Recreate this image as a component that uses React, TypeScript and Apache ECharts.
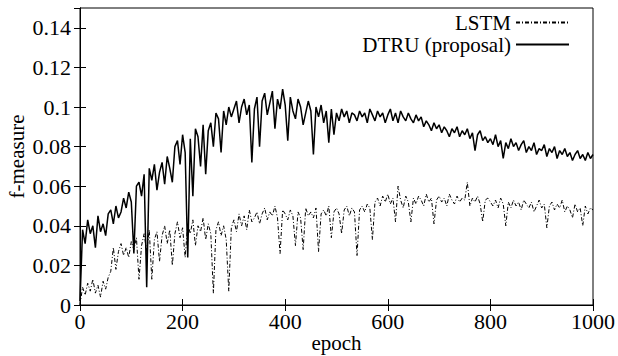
import React, { useEffect, useRef } from "react";
import * as echarts from "echarts";

const EPOCH_STEP = 5;
const SERIES_NAMES = ["LSTM", "DTRU (proposal)"];
const X_NAME = "epoch";
const Y_NAME = "f-measure";

// DTRU (proposal), sampled every 5 epochs (0..1000)
const dtru = [
  0.002, 0.038, 0.031, 0.043, 0.036, 0.040, 0.029, 0.045, 0.037, 0.041,
  0.035, 0.046, 0.048, 0.041, 0.050, 0.044, 0.047, 0.054, 0.049, 0.057,
  0.052, 0.026, 0.060, 0.062, 0.055, 0.066, 0.009, 0.069, 0.063, 0.071,
  0.058, 0.067, 0.072, 0.061, 0.075, 0.069, 0.062, 0.080, 0.083, 0.071,
  0.086, 0.077, 0.024, 0.084, 0.055, 0.089, 0.085, 0.070, 0.091, 0.066,
  0.088, 0.092, 0.080, 0.097, 0.094, 0.077, 0.098, 0.091, 0.100, 0.095,
  0.099, 0.103, 0.092, 0.100, 0.104, 0.096, 0.101, 0.072, 0.099, 0.105,
  0.080, 0.103, 0.107, 0.096, 0.102, 0.108, 0.089, 0.104, 0.099, 0.109,
  0.101, 0.083, 0.105, 0.098, 0.094, 0.104, 0.100, 0.091, 0.097, 0.103,
  0.098, 0.076, 0.100, 0.095, 0.101, 0.092, 0.098, 0.082, 0.099, 0.086,
  0.097, 0.093, 0.099, 0.095, 0.098, 0.092, 0.097, 0.096, 0.093, 0.098,
  0.095, 0.097, 0.092, 0.099, 0.096, 0.093, 0.098, 0.095, 0.097, 0.092,
  0.096, 0.099, 0.093, 0.097, 0.092, 0.098, 0.095, 0.093, 0.097, 0.094,
  0.092, 0.096, 0.093, 0.095, 0.090, 0.093, 0.091, 0.088, 0.092, 0.089,
  0.091, 0.087, 0.090, 0.088, 0.085, 0.089, 0.087, 0.090, 0.085, 0.088,
  0.086, 0.089, 0.084, 0.087, 0.078, 0.086, 0.088, 0.083, 0.085, 0.082,
  0.084, 0.081, 0.086, 0.080, 0.083, 0.074, 0.082, 0.079, 0.084, 0.080,
  0.082, 0.078, 0.081, 0.083, 0.077, 0.080, 0.078, 0.082, 0.076, 0.079,
  0.078, 0.081, 0.075, 0.079, 0.077, 0.080, 0.074, 0.078, 0.076, 0.079,
  0.075, 0.077, 0.073, 0.076, 0.078, 0.074, 0.076, 0.073, 0.077, 0.074,
  0.076,
];

// LSTM, sampled every 5 epochs (0..1000)
const lstm = [
  0.000, 0.009, 0.005, 0.011, 0.007, 0.013, 0.006, 0.010, 0.004, 0.012,
  0.008, 0.014, 0.017, 0.029, 0.018, 0.027, 0.031, 0.025, 0.029, 0.024,
  0.032, 0.028, 0.034, 0.013, 0.030, 0.036, 0.027, 0.038, 0.013, 0.033,
  0.037, 0.022, 0.035, 0.040, 0.031, 0.038, 0.020, 0.036, 0.042, 0.034,
  0.039, 0.024, 0.041, 0.036, 0.043, 0.030, 0.040, 0.037, 0.044, 0.033,
  0.041, 0.036, 0.006, 0.038, 0.042, 0.035, 0.040, 0.033, 0.007, 0.039,
  0.043, 0.037, 0.046, 0.040, 0.045, 0.038, 0.048, 0.042, 0.044, 0.047,
  0.041, 0.046, 0.049, 0.043, 0.047, 0.045, 0.050, 0.044, 0.026, 0.048,
  0.046, 0.043, 0.048, 0.045, 0.030, 0.047, 0.044, 0.028, 0.049, 0.045,
  0.047, 0.044, 0.049, 0.027, 0.046, 0.048, 0.045, 0.050, 0.034, 0.047,
  0.049, 0.046, 0.036, 0.048, 0.050, 0.045, 0.049, 0.047, 0.025, 0.048,
  0.050, 0.047, 0.051, 0.049, 0.033, 0.052, 0.054, 0.050, 0.055, 0.052,
  0.056, 0.051, 0.054, 0.042, 0.060, 0.053, 0.049, 0.055, 0.052, 0.042,
  0.054, 0.051, 0.055, 0.053, 0.050, 0.056, 0.052, 0.054, 0.041, 0.053,
  0.055, 0.052, 0.054, 0.050, 0.056, 0.053, 0.051, 0.055, 0.052, 0.054,
  0.053, 0.062, 0.050, 0.054, 0.052, 0.055, 0.051, 0.042, 0.053, 0.054,
  0.052, 0.050, 0.053, 0.049, 0.054, 0.051, 0.040, 0.052, 0.049, 0.053,
  0.050, 0.052, 0.048, 0.053, 0.051, 0.049, 0.052, 0.047, 0.050, 0.053,
  0.049, 0.051, 0.039, 0.050, 0.052, 0.048, 0.051, 0.049, 0.053, 0.047,
  0.050, 0.048, 0.044, 0.051, 0.047, 0.049, 0.040, 0.050, 0.046, 0.049,
  0.048,
];

const X_MIN = 0;
const X_MAX = 1000;
const X_INTERVAL = 200;
const Y_MIN = 0;
const Y_MAX = 0.15;
const Y_INTERVAL = 0.02;

const FONT = "Liberation Serif";

function toPairs(vals: number[]) {
  return vals.map((v, i) => [i * EPOCH_STEP, v]);
}

export default function App() {
  const ref = useRef<HTMLDivElement>(null);
  useEffect(() => {
    if (!ref.current) return;
    const chart = echarts.init(ref.current, undefined, { renderer: "svg" });
    const axisLine = { show: true, lineStyle: { color: "#000", width: 1 } };
    const tick = { show: true, inside: true, length: 6, lineStyle: { color: "#000", width: 1 } };
    const label = { color: "#000", fontFamily: FONT, fontSize: 22 };
    chart.setOption({
      animation: false,
      backgroundColor: "#fff",
      textStyle: { fontFamily: FONT, color: "#000" },
      grid: {
        left: 80,
        right: 25,
        top: 8,
        bottom: 51,
        outerBoundsMode: "none",
        containLabel: false,
        show: true,
        borderColor: "#000",
        borderWidth: 1,
      },
      legend: {
        orient: "vertical",
        right: 43,
        top: 7,
        align: "right",
        itemWidth: 53,
        itemHeight: 10,
        itemGap: 1,
        itemStyle: { opacity: 0 },
        textStyle: { ...label, fontSize: 21, lineHeight: 20 },
        data: SERIES_NAMES,
      },
      xAxis: [
        {
          type: "value",
          min: X_MIN,
          max: X_MAX,
          interval: X_INTERVAL,
          name: X_NAME,
          nameLocation: "middle",
          nameGap: 27,
          nameMoveOverlap: false,
          nameTextStyle: { ...label, fontSize: 21 },
          axisLine,
          axisTick: tick,
          axisLabel: { ...label, margin: 5, formatter: (v: number) => String(v) },
          splitLine: { show: false },
        },
        {
          type: "value",
          position: "top",
          min: X_MIN,
          max: X_MAX,
          interval: X_INTERVAL,
          axisLine,
          axisTick: tick,
          axisLabel: { show: false },
          splitLine: { show: false },
        },
      ],
      yAxis: [
        {
          type: "value",
          min: Y_MIN,
          max: Y_MAX,
          interval: Y_INTERVAL,
          name: Y_NAME,
          nameLocation: "middle",
          nameGap: 53,
          nameMoveOverlap: false,
          nameTextStyle: { ...label, fontSize: 21 },
          axisLine,
          axisTick: tick,
          axisLabel: {
            ...label,
            margin: 9,
            showMaxLabel: false,
            formatter: (v: number) => String(+v.toFixed(2)),
          },
          splitLine: { show: false },
        },
        {
          type: "value",
          position: "right",
          min: Y_MIN,
          max: Y_MAX,
          interval: Y_INTERVAL,
          axisLine,
          axisTick: tick,
          axisLabel: { show: false },
          splitLine: { show: false },
        },
      ],
      series: [
        {
          name: SERIES_NAMES[0],
          type: "line",
          data: toPairs(lstm),
          symbol: "none",
          lineStyle: { color: "#000", width: 1, type: [4, 2, 1, 2] },
          itemStyle: { color: "#000" },
        },
        {
          name: SERIES_NAMES[1],
          type: "line",
          data: toPairs(dtru),
          symbol: "none",
          lineStyle: { color: "#000", width: 1.5, type: "solid" },
          itemStyle: { color: "#000" },
        },
      ],
    });
    return () => chart.dispose();
  }, []);
  return (
    <div
      ref={ref}
      style={{ position: "fixed", left: 0, top: 0, width: 618, height: 356, background: "#fff" }}
    />
  );
}
